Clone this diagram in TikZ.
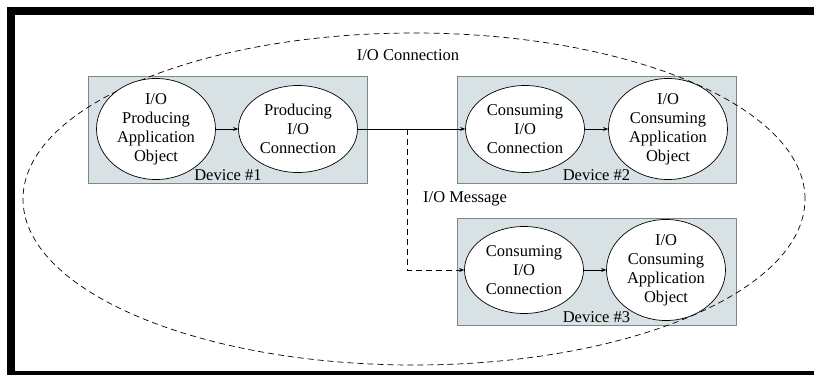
\documentclass[tikz,border=0pt]{standalone}
\usepackage{fontspec}
\setmainfont{Liberation Serif}
\usetikzlibrary{shapes.geometric,arrows.meta}
\definecolor{devfill}{RGB}{216,225,227}
\definecolor{devline}{RGB}{125,135,137}

\begin{document}
\begin{tikzpicture}[x=1pt,y=-1pt,
  devbox/.style={draw=devline,fill=devfill,line width=0.8pt,
    minimum width=279pt,minimum height=107pt,inner sep=0pt},
  obj/.style={ellipse,draw,fill=white,line width=0.7pt,
    minimum width=119pt,minimum height=87pt,inner sep=0pt,align=center,
    font=\fontsize{16.5}{19}\selectfont},
  lbl/.style={font=\fontsize{16.5}{19}\selectfont,inner sep=0pt},
  flow/.style={line width=0.7pt,-{Stealth[length=5pt,width=4pt]}},
  msgflow/.style={flow,dash pattern=on 6pt off 4pt},
  scope line/.style={line width=0.7pt,dash pattern=on 6pt off 4pt}]

\useasboundingbox (0,0) rectangle (814,375);

% black frame (top, left, bottom)
\fill (7,7) rectangle (814,15);
\fill (7,7) rectangle (15,375);
\fill (7,370.5) rectangle (814,375);

% device boxes
\node[devbox] (dev1) at (228,130) {};
\node[devbox] (dev2) at (596.5,130) {};
\node[devbox] (dev3) at (596.5,271.5) {};

% overall connection scope
\draw[scope line] (414,199) ellipse [x radius=391pt, y radius=166pt];

% objects inside each device
\node[obj] (prodapp) at (156,129) {I/O\\Producing\\Application\\Object};
\node[obj] (prodconn) at (298,129) {Producing\\I/O\\Connection};
\node[obj] (cons2) at (525,129) {Consuming\\I/O\\Connection};
\node[obj] (app2) at (668,129) {I/O\\Consuming\\Application\\Object};
\node[obj] (cons3) at (524,270) {Consuming\\I/O\\Connection};
\node[obj] (app3) at (666,270) {I/O\\Consuming\\Application\\Object};

% labels
\node[lbl,anchor=south] at ([yshift=3pt]dev1.south) {Device \#1};
\node[lbl,anchor=south] at ([yshift=3pt]dev2.south) {Device \#2};
\node[lbl,anchor=south] at ([yshift=3pt]dev3.south) {Device \#3};
\node[lbl] (conlbl) at (408,55) {I/O Connection};
\node[lbl,anchor=west] (msglbl) at (423,199) {I/O Message};

% connectors
\draw[flow] (prodapp) -- (prodconn);
\draw[flow] (prodconn.east) -- (cons2.west);
\coordinate (split) at (407,129);
\draw[msgflow] (split) |- (cons3.west);
\draw[flow] (cons2) -- (app2);
\draw[flow] (cons3) -- (app3);
\end{tikzpicture}
\end{document}
